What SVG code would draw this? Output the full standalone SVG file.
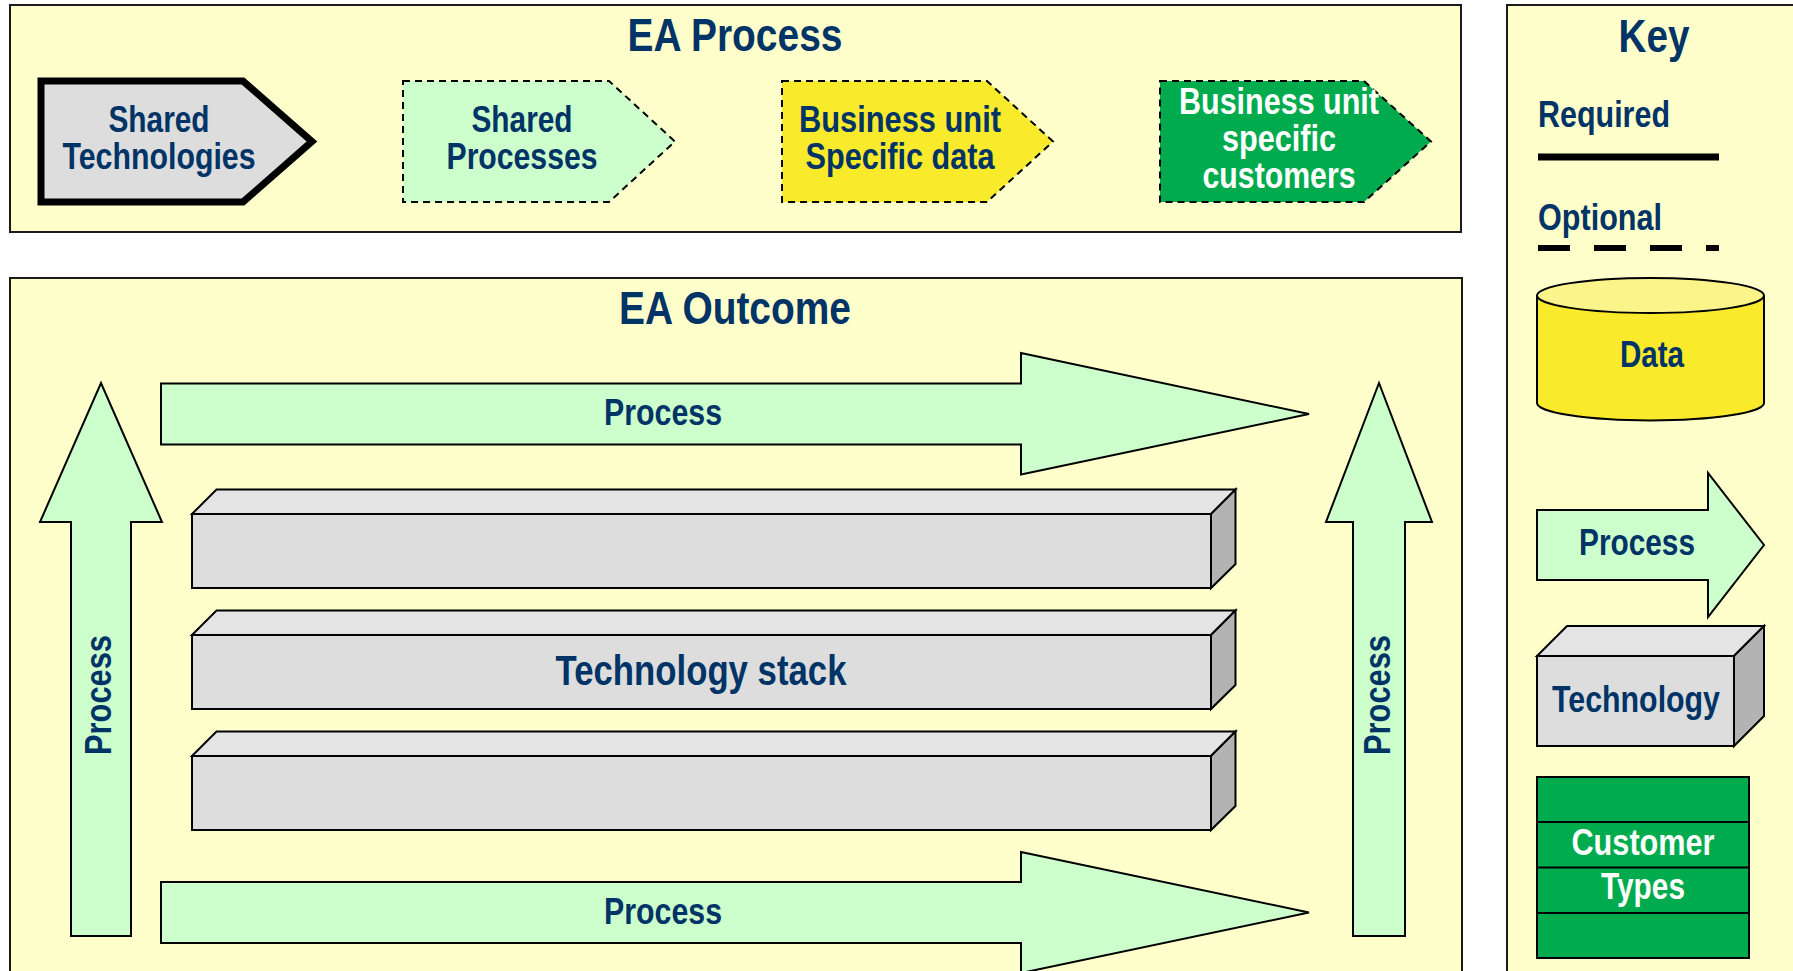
<svg xmlns="http://www.w3.org/2000/svg" width="1793" height="971" viewBox="0 0 1793 971">
  <style>
    text { font-family: "Liberation Sans Narrow", "Liberation Sans", Arial, sans-serif; font-weight: bold; fill: #003366; text-anchor: middle; }
    .title { font-size: 47px; }
    .lbl { font-size: 37px; }
    .big { font-size: 42px; }
    .white { fill: #FFFFFF; }
    .left { text-anchor: start; }
    .panel { fill: #FFFFCC; stroke: #1A1A1A; stroke-width: 2; }
    .flow { fill: #CCFFCC; stroke: #000; stroke-width: 2; stroke-linejoin: miter; }
    .opt { stroke: #000; stroke-width: 2; stroke-dasharray: 7 5; }
    .box { stroke: #000; stroke-width: 2; stroke-linejoin: miter; }
    .front { fill: #DDDDDD; }
    .top { fill: #E4E4E4; }
    .side { fill: #B3B3B3; }
  </style>

  <rect width="1793" height="971" fill="#FFFFFF"/>

  <!-- EA Process panel -->
  <g id="ea-process">
    <rect class="panel" x="10" y="5" width="1451" height="227"/>
    <text class="title" x="735" y="51" textLength="215" lengthAdjust="spacingAndGlyphs">EA Process</text>
  </g>

  <g id="shared-technologies">
    <path d="M41,81 H243 L312,141.5 L243,202 H41 Z" fill="#DDDDDD" stroke="#000" stroke-width="7" stroke-linejoin="miter"/>
    <text class="lbl" x="159" y="132" textLength="101" lengthAdjust="spacingAndGlyphs">Shared</text>
    <text class="lbl" x="159" y="169" textLength="193" lengthAdjust="spacingAndGlyphs">Technologies</text>
  </g>

  <g id="shared-processes">
    <path class="opt" d="M403,81 H609 L675,141.5 L609,202 H403 Z" fill="#CCFFCC"/>
    <text class="lbl" x="522" y="132" textLength="101" lengthAdjust="spacingAndGlyphs">Shared</text>
    <text class="lbl" x="522" y="169" textLength="151" lengthAdjust="spacingAndGlyphs">Processes</text>
  </g>

  <g id="business-unit-data">
    <path class="opt" d="M782,81 H987 L1053,141.5 L987,202 H782 Z" fill="#F9EA2C"/>
    <text class="lbl" x="900" y="132" textLength="202" lengthAdjust="spacingAndGlyphs">Business unit</text>
    <text class="lbl" x="900" y="169" textLength="189" lengthAdjust="spacingAndGlyphs">Specific data</text>
  </g>

  <g id="business-unit-customers">
    <path class="opt" d="M1160,81 H1364 L1431,141.5 L1364,202 H1160 Z" fill="#00AB4E"/>
    <text class="lbl white" x="1279" y="114" textLength="200" lengthAdjust="spacingAndGlyphs">Business unit</text>
    <text class="lbl white" x="1279" y="151" textLength="114" lengthAdjust="spacingAndGlyphs">specific</text>
    <text class="lbl white" x="1279" y="188" textLength="153" lengthAdjust="spacingAndGlyphs">customers</text>
  </g>

  <!-- EA Outcome panel -->
  <g id="ea-outcome">
    <rect class="panel" x="10" y="278" width="1452" height="720"/>
    <text class="title" x="735" y="324" textLength="232" lengthAdjust="spacingAndGlyphs">EA Outcome</text>
  </g>

  <g id="process-top">
    <path class="flow" d="M161,383.5 H1021 V353 L1309,414 L1021,474.5 V444.5 H161 Z"/>
    <text class="lbl" x="663" y="425" textLength="118" lengthAdjust="spacingAndGlyphs">Process</text>
  </g>

  <g id="process-bottom">
    <path class="flow" d="M161,882 H1021 V852 L1309,912.5 L1021,973 V943 H161 Z"/>
    <text class="lbl" x="663" y="924" textLength="118" lengthAdjust="spacingAndGlyphs">Process</text>
  </g>

  <g id="process-left">
    <path class="flow" d="M71,936 V522 H40 L101,383 L162,522 H131 V936 Z"/>
    <text class="lbl" transform="translate(111,695) rotate(-90)" textLength="120" lengthAdjust="spacingAndGlyphs">Process</text>
  </g>

  <g id="process-right">
    <path class="flow" d="M1353,936 V522 H1326 L1379,383 L1432,522 H1405 V936 Z"/>
    <text class="lbl" transform="translate(1390,695) rotate(-90)" textLength="120" lengthAdjust="spacingAndGlyphs">Process</text>
  </g>

  <!-- technology stack: three extruded bars -->
  <g id="tech-layer-1">
    <polygon class="box top" points="192,514 216.5,489.5 1235.5,489.5 1211,514"/>
    <polygon class="box side" points="1211,514 1235.5,489.5 1235.5,564 1211,588"/>
    <rect class="box front" x="192" y="514" width="1019" height="74"/>
  </g>

  <g id="tech-layer-2">
    <polygon class="box top" points="192,635 216.5,610.5 1235.5,610.5 1211,635"/>
    <polygon class="box side" points="1211,635 1235.5,610.5 1235.5,685 1211,709"/>
    <rect class="box front" x="192" y="635" width="1019" height="74"/>
    <text class="big" x="701" y="685" textLength="291" lengthAdjust="spacingAndGlyphs">Technology stack</text>
  </g>

  <g id="tech-layer-3">
    <polygon class="box top" points="192,756 216.5,731.5 1235.5,731.5 1211,756"/>
    <polygon class="box side" points="1211,756 1235.5,731.5 1235.5,806 1211,830"/>
    <rect class="box front" x="192" y="756" width="1019" height="74"/>
  </g>

  <!-- Key panel -->
  <g id="key">
    <rect class="panel" x="1507" y="5" width="300" height="990"/>
    <text class="title" x="1654" y="52" textLength="71" lengthAdjust="spacingAndGlyphs">Key</text>
  </g>

  <g id="key-required">
    <text class="lbl left" x="1538" y="127" textLength="132" lengthAdjust="spacingAndGlyphs">Required</text>
    <line x1="1538" y1="157" x2="1719" y2="157" stroke="#000" stroke-width="7"/>
  </g>

  <g id="key-optional">
    <text class="lbl left" x="1538" y="230" textLength="124" lengthAdjust="spacingAndGlyphs">Optional</text>
    <line x1="1538" y1="248" x2="1719" y2="248" stroke="#000" stroke-width="6" stroke-dasharray="32 24"/>
  </g>

  <g id="key-data">
    <path d="M1537,295.5 V403 A113.5,17.5 0 0 0 1764,403 V295.5" fill="#F9EA2C" stroke="#000" stroke-width="2"/>
    <ellipse cx="1650.5" cy="295.5" rx="113.5" ry="17.5" fill="#FAF48A" stroke="#000" stroke-width="2"/>
    <text class="lbl" x="1652" y="367" textLength="64" lengthAdjust="spacingAndGlyphs">Data</text>
  </g>

  <g id="key-process">
    <path class="flow" d="M1537,510 H1708 V473 L1764,545 L1708,617 V580 H1537 Z"/>
    <text class="lbl" x="1637" y="555" textLength="116" lengthAdjust="spacingAndGlyphs">Process</text>
  </g>

  <g id="key-technology">
    <polygon class="box top" points="1537,656 1567,626 1764,626 1734,656"/>
    <polygon class="box side" points="1734,656 1764,626 1764,716 1734,746"/>
    <rect class="box front" x="1537" y="656" width="197" height="90"/>
    <text class="lbl" x="1636" y="712" textLength="168" lengthAdjust="spacingAndGlyphs">Technology</text>
  </g>

  <g id="key-customer-types">
    <rect x="1537" y="777" width="212" height="181" fill="#00AB4E" stroke="#000" stroke-width="2"/>
    <line x1="1537" y1="822" x2="1749" y2="822" stroke="#000" stroke-width="2"/>
    <line x1="1537" y1="867.5" x2="1749" y2="867.5" stroke="#000" stroke-width="2"/>
    <line x1="1537" y1="913" x2="1749" y2="913" stroke="#000" stroke-width="2"/>
    <text class="lbl white" x="1643" y="855" textLength="143" lengthAdjust="spacingAndGlyphs">Customer</text>
    <text class="lbl white" x="1643" y="899" textLength="84" lengthAdjust="spacingAndGlyphs">Types</text>
  </g>

  <g id="connectors"/>
</svg>
